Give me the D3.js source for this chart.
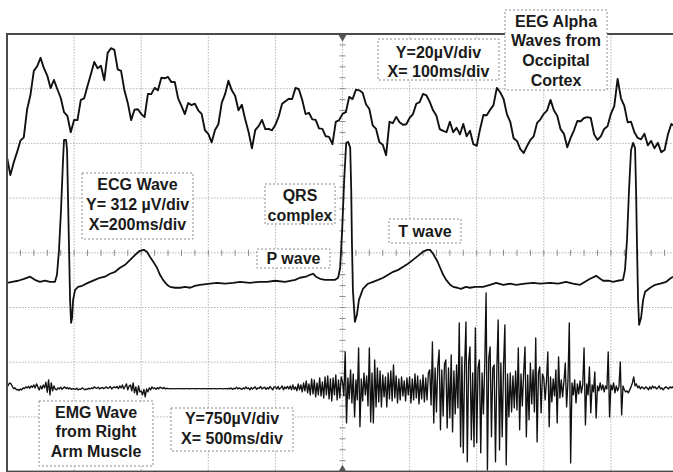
<!DOCTYPE html>
<html>
<head>
<meta charset="utf-8">
<script src="https://cdn.jsdelivr.net/npm/d3@7"></script>
<style>
  html, body { margin: 0; padding: 0; background: #fff; }
  svg { display: block; font-family: "Liberation Sans", Arial, sans-serif; }
</style>
</head>
<body>
<svg id="chart" width="673" height="472"></svg>
<script>
// ---- channel settings (scope readout) ----
const eegUvPerDiv = 20,  eegMsPerDiv = 100;
const ecgUvPerDiv = 312, ecgMsPerDiv = 200;
const emgUvPerDiv = 750, emgMsPerDiv = 500;

// EEG, microvolts, one sample every 5 ms
const eegStepMs = 5;
const eegUv = [
  -15.0,-21.6,-17.0,-13.2,-9.0,-7.8,2.5,7.8,16.5,18.2,21.3,17.5,14.8,10.2,13.2,9.8,6.7,1.4,0.1,-5.9,
  -1.4,-1.5,5.9,6.5,11.0,15.3,19.8,17.5,18.4,13.1,23.1,24.8,24.2,17.1,16.5,9.4,4.8,-1.5,2.3,2.5,
  0.8,-0.4,8.1,8.0,10.3,9.4,14.0,13.8,14.3,12.4,12.5,6.5,3.7,0.7,4.8,4.0,4.5,2.1,0.8,-5.2,
  -6.5,-9.6,-5.1,-3.0,4.8,8.0,12.9,9.4,7.4,2.1,4.1,-1.2,-5.8,-11.8,-5.1,-3.7,-1.4,-4.8,-4.7,-5.2,
  -3.2,-0.1,4.5,5.4,6.3,6.2,10.3,9.8,5.9,0.7,1.2,-1.2,-1.4,-4.5,-4.7,-7.4,-7.6,-10.3,-2.1,-1.5,
  0.8,1.4,7.0,6.2,9.6,9.4,8.5,4.3,2.6,-3.4,-4.7,-9.6,-10.5,-14.3,-2.1,-2.6,-0.3,-2.3,-3.2,-3.0,
  -0.7,0.7,4.5,5.1,8.1,7.6,5.2,2.1,0.1,-4.8,-5.4,-5.9,-2.1,-5.9,-4.3,-6.7,-2.9,-7.4,-5.4,-10.3,
  -10.9,-4.8,0.4,0.3,2.3,4.0,10.3,8.7,6.3,0.7,-2.1,-8.1,-9.1,-12.1,-13.5,-11.0,-8.7,-7.4,-2.5,-1.2,
  0.8,2.1,5.9,2.1,0.1,-4.8,-6.5,-11.4,-8.0,-5.2,-1.8,-1.9,-0.7,-0.4,-0.7,-6.7,-8.7,-7.4,-4.7,-3.7,
  0.8,3.6,13.6,6.5,3.7,-2.3,-2.1,-5.9,-8.0,-8.5,-6.5,-10.7,-9.1,-11.8,-9.8,-13.2,-12.4,-6.7,-2.9,-3.7,
  -2.5
];

// ECG, [ms, microvolts]
const ecgPoints = [
  [0,-6],[15,0],[33,6],[51,17],[69,29],[83,11],[98,0],[113,6],[128,0],[143,0],
  [149,40],[155,182],[161,410],[167,695],[170,809],[176,809],[179,752],[182,467],[185,182],[188,-103],
  [191,-234],[194,-205],[197,-103],[203,-46],[212,-29],[224,-23],[241,-6],[262,11],[277,23],[292,29],
  [307,46],[322,57],[337,80],[352,97],[367,125],[382,154],[396,177],[408,182],[417,171],[426,143],
  [438,108],[447,80],[456,40],[465,11],[477,-17],[486,-29],[501,-34],[516,-34],[531,-29],[546,-34],
  [560,-23],[575,-17],[605,-11],[626,-6],[650,-11],[674,-6],[695,0],[724,-6],[754,0],[775,0],
  [799,6],[829,0],[859,11],[873,23],[891,29],[903,40],[912,46],[921,29],[933,17],[948,11],
  [963,11],[978,11],[987,23],[993,80],[999,296],[1005,581],[1011,792],[1017,798],[1023,764],[1026,524],
  [1028,239],[1031,-46],[1037,-228],[1043,-188],[1049,-103],[1061,-40],[1076,-11],[1091,0],[1106,11],[1121,23],
  [1136,40],[1151,57],[1166,68],[1181,86],[1195,103],[1210,125],[1225,148],[1240,171],[1252,182],[1261,182],
  [1270,160],[1282,120],[1291,80],[1300,40],[1309,11],[1321,-17],[1330,-29],[1342,-34],[1353,-40],[1368,-29],
  [1380,-34],[1395,-29],[1419,-29],[1440,-17],[1458,-6],[1479,-17],[1500,-11],[1517,-17],[1544,-11],[1568,-6],
  [1589,-11],[1619,-6],[1643,-11],[1666,0],[1687,-11],[1708,-17],[1723,0],[1738,17],[1756,34],[1768,17],
  [1777,6],[1792,6],[1807,0],[1821,6],[1836,11],[1842,68],[1848,239],[1854,524],[1860,752],[1866,792],
  [1872,764],[1875,524],[1878,182],[1881,-103],[1884,-245],[1890,-205],[1896,-103],[1902,-57],[1917,-34],[1932,-17],
  [1947,-11],[1965,0],[1976,17],[1985,29]
];

// EMG, microvolts, one sample every 10 ms
const emgStepMs = 10;
const emgUv = [
  14,40,68,55,20,-10,0,-27,-20,-35,-15,-27,0,-10,14,0,20,-5,27,10,41,0,55,14,-30,27,-14,41,0,80,
  -60,110,-96,68,-41,27,-20,-27,0,-14,10,-20,0,14,-10,5,-14,0,-20,-10,
  -14,-20,-5,-27,-14,-20,0,-10,-27,-14,-20,-5,-14,0,-10,14,0,-5,10,-14,0,5,-10,0,14,-5,0,20,-14,5,
  14,0,20,-10,27,0,41,-14,20,55,-27,27,41,-41,68,-68,14,-96,27,-55,
  -41,-96,-20,-123,-14,-55,0,-27,14,-10,0,-20,5,-14,10,0,-10,5,-14,-5,
  -10,-10,-14,-10,-10,-14,-10,-10,-10,-14,-10,-10,-14,-10,-10,-10,-14,-10,-10,-10,
  -10,-14,-10,-10,-10,-14,-10,-10,-10,-14,
  -10,-10,-14,-10,-10,-10,-14,-10,-10,-10,-10,-14,-10,-10,-14,
  -5,-14,0,-20,-5,-14,10,-14,0,-10,-20,0,-14,14,-10,0,-27,5,-14,0,
  14,-20,0,-5,20,-14,0,10,-20,5,-14,20,-5,-27,14,
  14,-14,20,-20,0,27,-27,14,-10,20,-14,27,-27,41,-20,14,-41,55,-27,41,
  -55,68,-41,96,-68,55,-96,123,-82,110,-123,68,-96,137,-110,82,-137,150,-96,164,
  -150,123,-178,137,-96,178,-164,110,-137,150,
  82,-110,493,-480,137,-150,247,-205,192,-397,110,-164,548,-534,123,-178,205,-96,164,-247,
  548,-466,205,-480,384,-260,274,-192,233,-260,178,-123,150,-260,205,-150,233,-178,315,-137,
  164,-205,123,-164,150,-110,96,-178,137,-96,
  150,-205,123,-164,192,-137,164,-219,110,-150,178,-192,137,-164,205,247,-233,630,-480,274,
  -329,301,520,-575,247,-384,329,384,-548,274,-411,452,-603,233,-356,315,-274,890,-808,425,
  -890,301,904,-1014,356,562,-712,205,-808,822,
  -753,274,384,-890,205,-356,329,1302,-1124,411,562,-671,274,315,-1014,247,932,-850,342,-671,
  301,863,-1055,192,-397,205,-329,164,-274,233,-301,548,-575,192,-247,219,562,-671,178,-438,
  342,-219,247,-329,685,-740,205,288,-342,192,
  137,-164,96,493,-534,150,-192,123,-110,247,-480,425,-137,110,-123,82,342,-260,96,890,
  -1028,68,-96,110,-205,55,-82,96,-68,41,548,-507,55,-96,288,-342,41,-55,219,-411,
  27,-41,68,-27,41,-55,27,-14,493,-397,
  41,-27,68,-68,27,-41,14,356,-370,27,-27,-55,-41,-68,-27,14,68,150,27,55,
  0,27,-14,14,0,-14,14,0,-27,14,-14,27,0,14,-14,0,27,-14,0,-27,
  0,14,0,-14,14,0,14,-14,0,14
];

// annotation texts
const eegTitle  = ["EEG Alpha", "Waves from", "Occipital", "Cortex"];
const eegScale  = ["Y=20µV/div", "X= 100ms/div"];
const ecgTitle  = ["ECG Wave", "Y= 312 µV/div", "X=200ms/div"];
const qrsNote   = ["QRS", "complex"];
const pNote     = ["P wave"];
const tNote     = ["T wave"];
const emgTitle  = ["EMG Wave", "from Right", "Arm Muscle"];
const emgScale  = ["Y=750µV/div", "X= 500ms/div"];

// ---- drawing ----
var svg = d3.select("#chart");

var scrLeft = 7, scrRight = 678, scrTop = 34, scrBottom = 471.6;
var gx = d3.scaleLinear().domain([0, 10]).range([scrLeft, scrRight]);
var gy = d3.scaleLinear().domain([-4, 4]).range([scrBottom, scrTop]);

svg.append("defs").append("clipPath").attr("id", "screen")
  .append("rect").attr("x", scrLeft).attr("y", scrTop)
  .attr("width", scrRight - scrLeft).attr("height", scrBottom - scrTop);

// graticule
var grid = svg.append("g").attr("stroke", "#b4b4b4").attr("stroke-width", 1)
  .attr("stroke-dasharray", "1.5,1.5");
grid.selectAll(".vl").data(d3.range(1, 10)).join("line").attr("class", "vl")
  .attr("x1", d => gx(d)).attr("x2", d => gx(d))
  .attr("y1", scrTop).attr("y2", scrBottom);
grid.selectAll(".hl").data(d3.range(-3, 4)).join("line").attr("class", "hl")
  .attr("x1", scrLeft).attr("x2", scrRight)
  .attr("y1", d => gy(d)).attr("y2", d => gy(d));

// centre minor ticks
var ticks = svg.append("g").attr("stroke", "#8a8a8a").attr("stroke-width", 1);
ticks.selectAll(".tx").data(d3.range(1, 50)).join("line").attr("class", "tx")
  .attr("x1", d => gx(d / 5)).attr("x2", d => gx(d / 5))
  .attr("y1", gy(0) - 3).attr("y2", gy(0) + 3);
ticks.selectAll(".ty").data(d3.range(1, 40)).join("line").attr("class", "ty")
  .attr("x1", gx(5) - 3).attr("x2", gx(5) + 3)
  .attr("y1", d => gy(d / 5 - 4)).attr("y2", d => gy(d / 5 - 4));

// traces
function drawTrace(points, msPerDiv, uvPerDiv, posDiv, width) {
  var x = d3.scaleLinear().domain([0, msPerDiv * 10]).range([scrLeft, scrRight]);
  var y = d3.scaleLinear().domain([-4 * uvPerDiv, 4 * uvPerDiv])
    .range([gy(-4 + posDiv), gy(4 + posDiv)]);
  var line = d3.line().x(d => x(d[0])).y(d => y(d[1]));
  svg.append("path").datum(points)
    .attr("clip-path", "url(#screen)")
    .attr("fill", "none").attr("stroke", "#111")
    .attr("stroke-width", width).attr("stroke-linejoin", "round")
    .attr("d", line);
}

drawTrace(eegUv.map((v, i) => [i * eegStepMs, v]), eegMsPerDiv, eegUvPerDiv, 2.5, 1.9);
drawTrace(ecgPoints, ecgMsPerDiv, ecgUvPerDiv, -0.53, 1.8);
drawTrace(emgUv.map((v, i) => [i * emgStepMs, v]), emgMsPerDiv, emgUvPerDiv, -2.47, 1.35);

// frame
svg.append("rect").attr("x", scrLeft).attr("y", scrTop)
  .attr("width", scrRight - scrLeft).attr("height", scrBottom - scrTop)
  .attr("fill", "none").attr("stroke", "#4a4a4a").attr("stroke-width", 2);

// trigger markers on the centre line
svg.append("path").attr("d", d3.symbol(d3.symbolTriangle, 30)())
  .attr("transform", "translate(" + gx(5) + "," + (scrTop + 3) + ") rotate(180)")
  .attr("fill", "#555");
svg.append("path").attr("d", d3.symbol(d3.symbolTriangle, 30)())
  .attr("transform", "translate(" + gx(5) + "," + (scrBottom - 2) + ")")
  .attr("fill", "#555");

// label boxes
function note(lines, x0, y0, x1, y1, firstY, lh) {
  var g = svg.append("g");
  g.append("rect").attr("x", x0).attr("y", y0)
    .attr("width", x1 - x0).attr("height", y1 - y0)
    .attr("fill", "#fff").attr("stroke", "#8c8c8c")
    .attr("stroke-width", 1).attr("stroke-dasharray", "2,2");
  g.selectAll("text").data(lines).join("text")
    .attr("x", (x0 + x1) / 2)
    .attr("y", (d, i) => firstY + i * lh)
    .attr("dy", "0.36em")
    .attr("text-anchor", "middle")
    .attr("font-size", 16).attr("font-weight", "bold")
    .attr("fill", "#1a1a1a")
    .text(d => d);
}

note(eegTitle, 505, 10, 607, 90, 21, 19.7);
note(eegScale, 378, 39, 499, 80, 52, 19.5);
note(ecgTitle, 82, 173, 193, 239, 184, 20);
note(qrsNote, 265, 184, 335, 224, 195, 20);
note(pNote, 257, 249, 330, 268, 258.5, 20);
note(tNote, 389, 219, 461, 243, 231, 20);
note(emgTitle, 39, 401, 153, 466, 412, 19.5);
note(emgScale, 171, 408, 293, 451, 418, 20.5);
</script>
</body>
</html>
